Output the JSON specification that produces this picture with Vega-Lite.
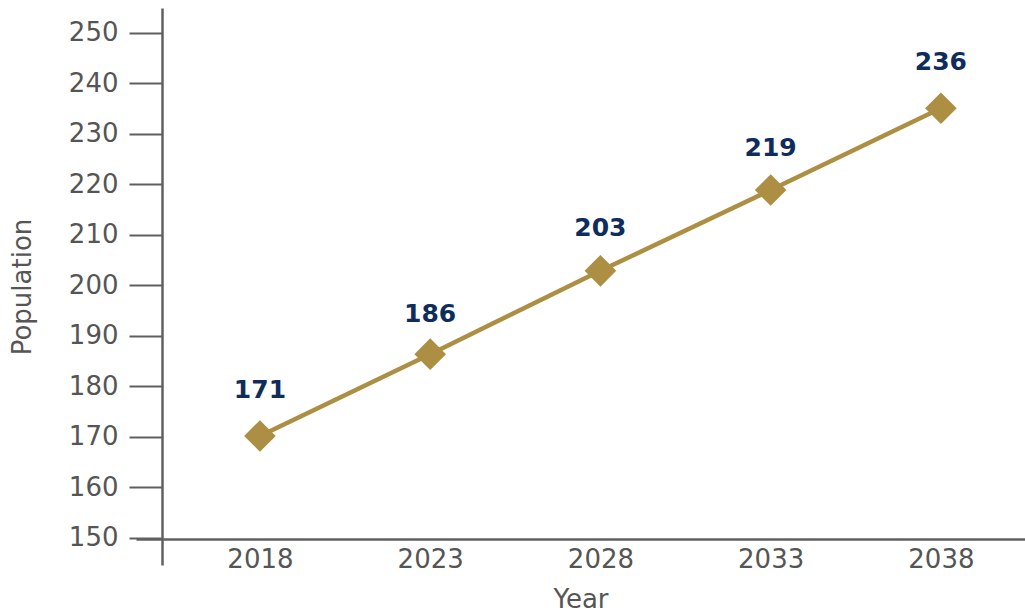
{
  "$schema": "https://vega.github.io/schema/vega-lite/v6.json",
  "width": 889,
  "height": 557,
  "autosize": {"type": "none"},
  "padding": {"left": 136, "top": 8, "right": 0, "bottom": 49},
  "background": "white",
  "config": {
    "view": {"stroke": null},
    "font": "DejaVu Sans"
  },
  "data": {
    "values": [
      {"year": 2018, "population": 170.2, "label": "171", "labelValue": 171},
      {"year": 2023, "population": 186.4, "label": "186", "labelValue": 186},
      {"year": 2028, "population": 202.9, "label": "203", "labelValue": 203},
      {"year": 2033, "population": 218.9, "label": "219", "labelValue": 219},
      {"year": 2038, "population": 235.1, "label": "236", "labelValue": 236}
    ]
  },
  "layer": [
    {
      "mark": {"type": "line", "color": "#ad8f43", "strokeWidth": 4.5},
      "encoding": {
        "x": {
          "field": "year", "type": "quantitative",
          "scale": {"domain": [2014.36, 2040.47], "nice": false, "zero": false},
          "axis": {
            "title": "Year",
            "values": [2018, 2023, 2028, 2033, 2038],
            "format": "d",
            "offset": -26,
            "grid": false,
            "ticks": false,
            "domainColor": "#606060",
            "domainWidth": 2.5,
            "labelFontSize": 26,
            "labelColor": "#555555",
            "labelPadding": 7,
            "titleFontSize": 26,
            "titleFontWeight": "normal",
            "titleColor": "#555555",
            "titlePadding": 14
          }
        },
        "y": {
          "field": "population", "type": "quantitative",
          "scale": {"domain": [144.65, 254.95], "nice": false, "zero": false},
          "axis": {
            "title": "Population",
            "values": [150, 160, 170, 180, 190, 200, 210, 220, 230, 240, 250],
            "offset": -26,
            "grid": false,
            "domainColor": "#606060",
            "domainWidth": 2.5,
            "tickColor": "#606060",
            "tickWidth": 2,
            "tickSize": 33,
            "labelFontSize": 26,
            "labelColor": "#555555",
            "labelPadding": 11,
            "titleFontSize": 26,
            "titleFontWeight": "normal",
            "titleColor": "#555555",
            "titlePadding": 33
          }
        }
      }
    },
    {
      "mark": {"type": "point", "shape": "diamond", "filled": true, "color": "#ad8f43", "size": 1000, "opacity": 1},
      "encoding": {
        "x": {"field": "year", "type": "quantitative"},
        "y": {"field": "population", "type": "quantitative"}
      }
    },
    {
      "mark": {"type": "text", "color": "#0f2d5b", "fontSize": 25, "fontWeight": "bold", "dy": -42, "baseline": "middle", "align": "center"},
      "encoding": {
        "x": {"field": "year", "type": "quantitative"},
        "y": {"field": "labelValue", "type": "quantitative"},
        "text": {"field": "label"}
      }
    }
  ]
}
